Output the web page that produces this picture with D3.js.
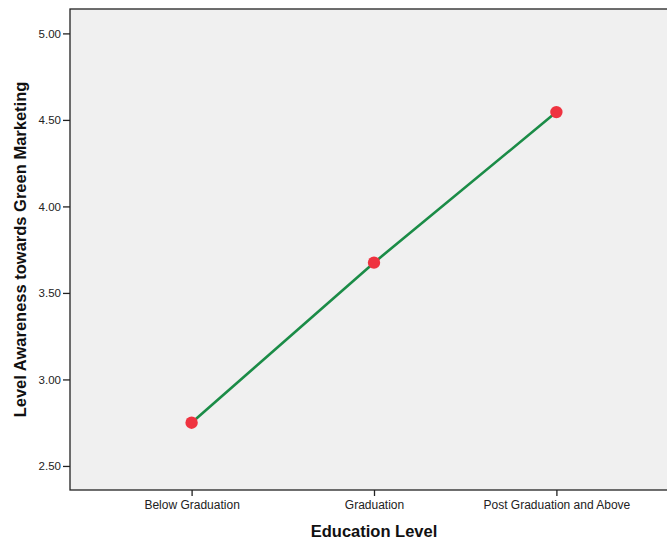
<!DOCTYPE html>
<html><head><meta charset="utf-8">
<script src="https://cdn.jsdelivr.net/npm/d3@7"></script>
<style>body{margin:0;background:#fff;}svg{display:block;}</style>
</head><body>
<svg id="c" width="667" height="540"></svg>
<script>
const categories = ["Below Graduation", "Graduation", "Post Graduation and Above"];
const values = [2.75, 3.675, 4.545];
const yTicks = [2.5, 3.0, 3.5, 4.0, 4.5, 5.0];
const xTitle = "Education Level";
const yTitle = "Level Awareness towards Green Marketing";

const svg = d3.select("#c");
const L = 70, T = 9, R = 678, B = 490;
const x = d3.scalePoint().domain(categories).range([L, R]).padding(2 / 3);
const y = d3.scaleLinear().domain([2.361, 5.141]).range([B, T]);

svg.append("rect").attr("x", L).attr("y", T).attr("width", R - L).attr("height", B - T)
  .attr("fill", "#f0f0f0").attr("stroke", "#222").attr("stroke-width", 1.3);

const font = "'Liberation Sans', Arial, sans-serif";
const ya = svg.append("g").attr("transform", `translate(${L},0)`)
  .call(d3.axisLeft(y).tickValues(yTicks).tickFormat(d3.format(".2f")).tickSize(7).tickPadding(2));
ya.select(".domain").remove();
ya.selectAll("line").attr("stroke", "#222").attr("stroke-width", 1.3);
ya.selectAll("text").attr("font-family", font).attr("font-size", 11.5).attr("fill", "#222");

const xa = svg.append("g").attr("transform", `translate(0,${B})`)
  .call(d3.axisBottom(x).tickSize(6).tickPadding(4));
xa.select(".domain").remove();
xa.selectAll("line").attr("stroke", "#222").attr("stroke-width", 1.3);
xa.selectAll("text").attr("font-family", font).attr("font-size", 12).attr("fill", "#222");

const data = categories.map((c, i) => ({c, v: values[i]}));
svg.append("path").datum(data)
  .attr("d", d3.line().x(d => x(d.c)).y(d => y(d.v)))
  .attr("fill", "none").attr("stroke", "#1b8c47").attr("stroke-width", 2.6);
svg.selectAll("circle.p").data(data).enter().append("circle")
  .attr("cx", d => x(d.c)).attr("cy", d => y(d.v)).attr("r", 6.2)
  .attr("fill", "#ef3340");

svg.append("text").attr("x", 374).attr("y", 537).attr("text-anchor", "middle")
  .attr("font-family", font).attr("font-size", 16.5).attr("font-weight", "bold").attr("fill", "#111")
  .text(xTitle);
svg.append("text").attr("transform", `translate(26,${(T + B) / 2}) rotate(-90)`).attr("text-anchor", "middle")
  .attr("font-family", font).attr("font-size", 16.5).attr("font-weight", "bold").attr("fill", "#111")
  .text(yTitle);
</script>
</body></html>
